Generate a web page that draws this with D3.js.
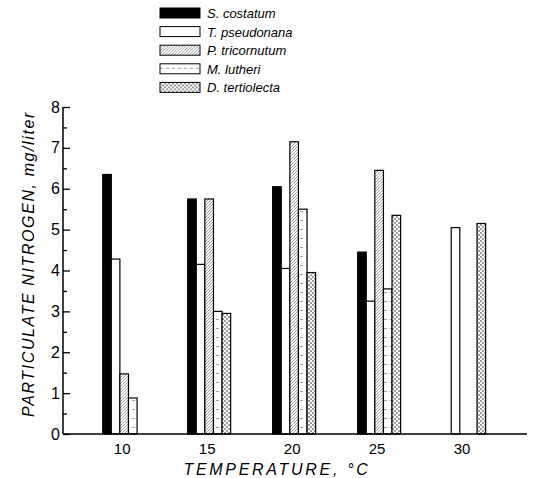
<!DOCTYPE html>
<html lang="en">
<head>
    <meta charset="UTF-8">
    <title>Particulate nitrogen vs temperature</title>
    <script src="https://cdn.jsdelivr.net/npm/d3@7"></script>
    <style>
        body { margin: 0; background: #fff; }
        text { font-family: "Liberation Sans", Arial, sans-serif; fill: #000; }
    </style>
</head>
<body>
    <script>
        // data
        const temps = [10, 15, 20, 25, 30];
        const species = ["S. costatum", "T. pseudonana", "P. tricornutum", "M. lutheri", "D. tertiolecta"];
        const sCostatum = [6.35, 5.75, 6.05, 4.45, null];
        const tPseudonana = [4.28, 4.15, 4.05, 3.25, 5.05];
        const pTricornutum = [1.47, 5.75, 7.15, 6.45, null];
        const mLutheri = [0.88, 3.0, 5.5, 3.55, null];
        const dTertiolecta = [null, 2.95, 3.95, 5.35, 5.15];
        const yTicks = [0, 1, 2, 3, 4, 5, 6, 7, 8];

        const series = [sCostatum, tPseudonana, pTricornutum, mLutheri, dTertiolecta];

        const width = 536;
        const height = 478;
        const barW = 8.6;

        const x = d3.scaleLinear()
            .domain([6.4, 33.7])
            .range([63, 527]);

        const y = d3.scaleLinear()
            .domain([0, 8])
            .range([434, 107]);

        const svg = d3.select("body").append("svg")
            .attr("width", width)
            .attr("height", height)
            .attr("viewBox", [0, 0, width, height]);

        // fill patterns
        const defs = svg.append("defs");

        const hatch = defs.append("pattern")
            .attr("id", "hatch")
            .attr("patternUnits", "userSpaceOnUse")
            .attr("width", 3).attr("height", 3);
        hatch.append("rect").attr("width", 3).attr("height", 3).attr("fill", "#fff");
        hatch.append("path")
            .attr("d", "M0,3 L3,0 M-1,1 L1,-1 M2,4 L4,2")
            .attr("stroke", "#666").attr("stroke-width", 0.6);

        const lines = defs.append("pattern")
            .attr("id", "lines")
            .attr("patternUnits", "userSpaceOnUse")
            .attr("width", 6).attr("height", 9);
        lines.append("rect").attr("width", 6).attr("height", 9).attr("fill", "#fff");
        lines.append("path")
            .attr("d", "M0,4.5 H3")
            .attr("stroke", "#777").attr("stroke-width", 0.7);

        const dots = defs.append("pattern")
            .attr("id", "dots")
            .attr("patternUnits", "userSpaceOnUse")
            .attr("width", 4).attr("height", 4);
        dots.append("rect").attr("width", 4).attr("height", 4).attr("fill", "#fff");
        dots.append("circle").attr("cx", 1).attr("cy", 1).attr("r", 0.8).attr("fill", "#222");
        dots.append("circle").attr("cx", 3).attr("cy", 3).attr("r", 0.8).attr("fill", "#222");

        const fills = ["#000", "#fff", "url(#hatch)", "url(#lines)", "url(#dots)"];

        // bars
        series.forEach((vals, j) => {
            svg.append("g")
                .selectAll("rect")
                .data(temps.map((t, i) => ({ t, v: vals[i] })).filter(d => d.v != null))
                .join("rect")
                .attr("x", d => x(d.t) + (j - 2.5) * barW)
                .attr("y", d => y(d.v))
                .attr("width", barW)
                .attr("height", d => y(0) - y(d.v))
                .attr("fill", fills[j])
                .attr("stroke", "#000")
                .attr("stroke-width", 1.2);
        });

        // y axis: ticks point inward, half-unit minor ticks
        const yAxis = d3.axisRight(y)
            .tickValues(d3.range(0, 8.01, 0.5))
            .tickSize(6)
            .tickFormat("");
        svg.append("g")
            .attr("transform", `translate(${x.range()[0]},0)`)
            .call(yAxis)
            .call(g => g.select(".domain").attr("d", `M0,${y(0)}V${y(8)}`).attr("stroke-width", 1.5))
            .call(g => g.selectAll(".tick line")
                .attr("x2", d => Number.isInteger(d) ? 7 : 4)
                .attr("stroke-width", 1.3));

        svg.append("g")
            .selectAll("text")
            .data(yTicks)
            .join("text")
            .attr("x", x.range()[0] - 3)
            .attr("y", d => y(d) + 5.5)
            .attr("text-anchor", "end")
            .attr("font-size", 16)
            .text(d => d);

        // x axis
        svg.append("line")
            .attr("x1", x.range()[0]).attr("x2", x.range()[1])
            .attr("y1", y(0)).attr("y2", y(0))
            .attr("stroke", "#000").attr("stroke-width", 1.5);

        svg.append("g")
            .selectAll("text")
            .data(temps)
            .join("text")
            .attr("x", d => x(d) - 2)
            .attr("y", 454)
            .attr("text-anchor", "middle")
            .attr("font-size", 15)
            .text(d => d);

        // axis titles
        svg.append("text")
            .attr("x", 277)
            .attr("y", 475)
            .attr("text-anchor", "middle")
            .attr("font-size", 16)
            .attr("font-style", "italic")
            .attr("letter-spacing", 2.7)
            .text("TEMPERATURE, °C");

        svg.append("text")
            .attr("transform", "translate(34,264) rotate(-90)")
            .attr("text-anchor", "middle")
            .attr("font-size", 16)
            .attr("font-style", "italic")
            .attr("letter-spacing", 1.6)
            .text("PARTICULATE  NITROGEN, mg/liter");

        // legend
        const legend = svg.append("g")
            .attr("transform", "translate(160,8)");
        species.forEach((name, j) => {
            const row = legend.append("g").attr("transform", `translate(0,${j * 18.6})`);
            row.append("rect")
                .attr("width", 40).attr("height", 10)
                .attr("fill", fills[j])
                .attr("stroke", "#000").attr("stroke-width", 1);
            row.append("text")
                .attr("x", 47).attr("y", 10)
                .attr("font-size", 13)
                .attr("font-style", "italic")
                .text(name);
        });
    </script>
</body>
</html>
